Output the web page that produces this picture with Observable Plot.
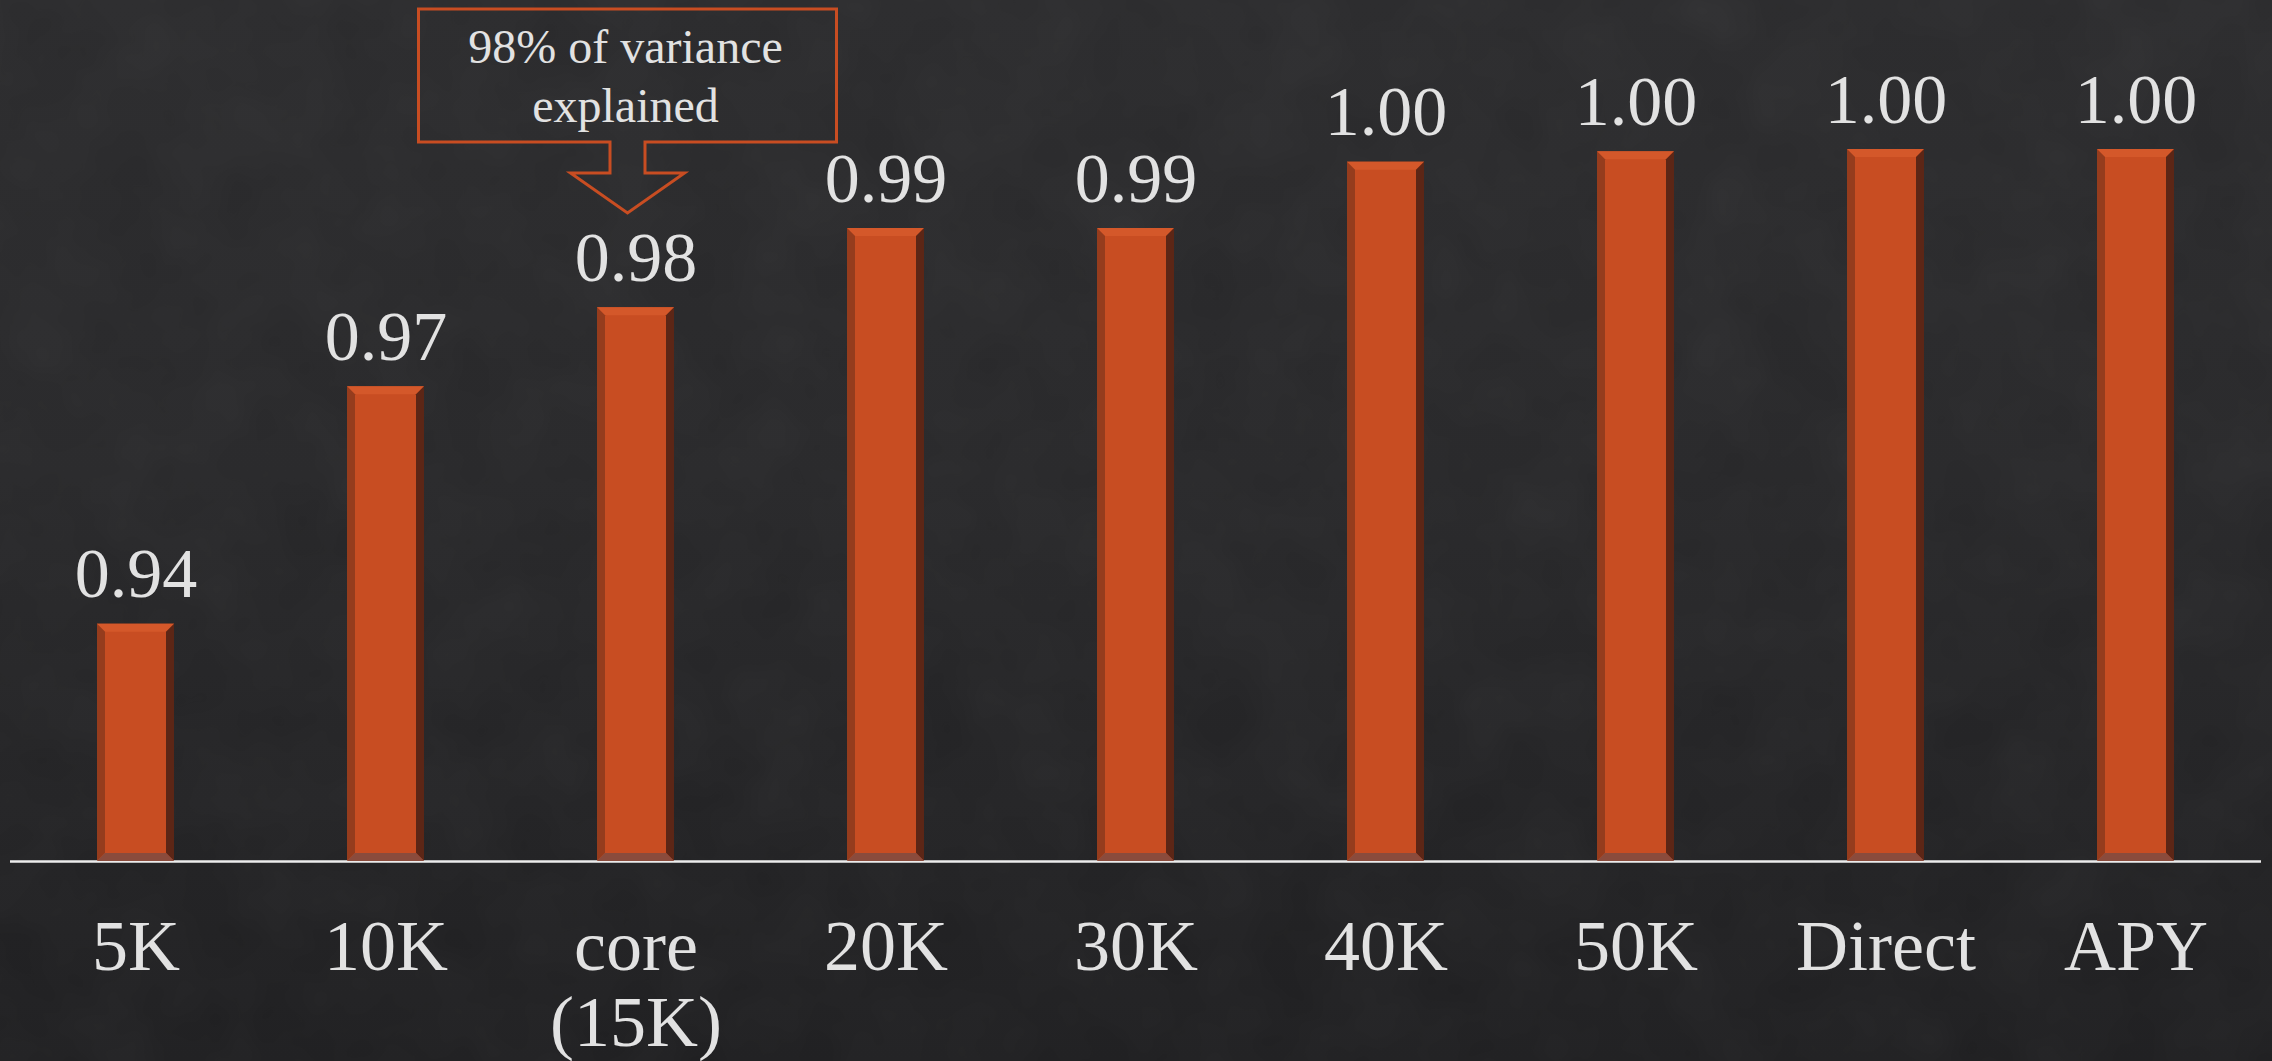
<!DOCTYPE html>
<html>
<head>
<meta charset="utf-8">
<script src="https://cdn.jsdelivr.net/npm/d3@7"></script>
<script src="https://cdn.jsdelivr.net/npm/@observablehq/plot@0.6"></script>
<style>
  html, body { margin: 0; padding: 0; width: 2272px; height: 1061px; overflow: hidden; }
  body { background: linear-gradient(180deg, #2b2b2d 0%, #28282a 45%, #1f1f21 100%); position: relative; }
  #noise { position: absolute; left: 0; top: 0; }
  #chart { position: absolute; left: 0; top: 0; }
  #chart svg { display: block; }
</style>
</head>
<body>
<svg id="noise" width="2272" height="1061" aria-hidden="true">
  <filter id="grain"><feTurbulence type="fractalNoise" baseFrequency="0.012" numOctaves="3" seed="4"/><feColorMatrix type="saturate" values="0"/></filter>
  <rect width="2272" height="1061" filter="url(#grain)" opacity="0.05"/>
</svg>
<div id="chart"></div>
<script>
// ---- data ----
const categories = ["5K", "10K", "core (15K)", "20K", "30K", "40K", "50K", "Direct", "APY"];
const tickLabels = ["5K", "10K", "core\n(15K)", "20K", "30K", "40K", "50K", "Direct", "APY"];
const values = [0.94, 0.97, 0.98, 0.99, 0.99, 0.9984, 0.9997, 1.0, 1.0];
const annotatedCategory = "core (15K)";
const annotationLines = ["98% of variance", "explained"];
const yDomain = [0.91, 1.0];

const data = categories.map((c, i) => ({category: c, value: values[i]}));

const W = 2272, H = 1061;
const FONT = "'Liberation Serif', 'Times New Roman', serif";
const TEXT = "#e2e2e2";
const ORANGE = "#c84d22";

const hasAxisMark = typeof Plot.axisX === "function";
const fmtTick = (d) => tickLabels[categories.indexOf(d)];

const plot = Plot.plot({
  width: W,
  height: H,
  marginLeft: 10,
  marginRight: 11,
  marginTop: 149,
  marginBottom: 200,
  style: {background: "transparent", fontFamily: FONT, color: TEXT, overflow: "visible"},
  x: {domain: categories, paddingInner: 0.692, paddingOuter: 0.346, label: null,
      ...(hasAxisMark ? {axis: null} : {tickSize: 0, tickPadding: 56, tickFormat: fmtTick})},
  y: {domain: yDomain, axis: null},
  marks: [
    Plot.barY(data, {x: "category", y1: yDomain[0], y2: "value", fill: ORANGE}),
    Plot.ruleY([yDomain[0]], {stroke: "#ececec", strokeWidth: 2.5}),
    Plot.text(data, {x: "category", y: "value", text: d => d3.format(".2f")(d.value),
      lineAnchor: "bottom", dy: -27, fontSize: 70, fill: TEXT, fontFamily: FONT}),
    hasAxisMark ? Plot.axisX({tickSize: 0, tickPadding: 55, tickFormat: fmtTick,
      fontSize: 72, lineHeight: 1.05, fill: TEXT, fontFamily: FONT, label: null}) : null
  ]
});
document.getElementById("chart").appendChild(plot);

const svg = d3.select(plot);
svg.selectAll("text").attr("fill", TEXT);
if (!hasAxisMark) {
  svg.selectAll("g[aria-label='x-axis'] text, g[aria-label='x-axis tick label'] text").style("font-size", "72px");
}

// ---- bevel on each bar (derived from the rendered bar geometry) ----
const bevel = svg.append("g").attr("aria-label", "bevel");
const rects = svg.selectAll("g[aria-label='bar'] rect").nodes();
rects.forEach((r) => {
  const x0 = +r.getAttribute("x"), y0 = +r.getAttribute("y");
  const x1 = x0 + +r.getAttribute("width"), yb = y0 + +r.getAttribute("height");
  const b = 8;
  const poly = (pts, fill) => bevel.append("polygon").attr("points", pts.map(p => p.join(",")).join(" ")).attr("fill", fill);
  poly([[x0, y0], [x1, y0], [x1 - b, y0 + b], [x0 + b, y0 + b]], "#d4582a");
  poly([[x0, y0], [x0 + b, y0 + b], [x0 + b, yb - b], [x0, yb]], "#953c1d");
  poly([[x1, y0], [x1 - b, y0 + b], [x1 - b, yb - b], [x1, yb]], "#5c2616");
  poly([[x0, yb], [x0 + b, yb - b], [x1 - b, yb - b], [x1, yb]], "#8a4b3c");
});

// ---- callout annotation anchored on the annotated bar ----
const ai = categories.indexOf(annotatedCategory);
const ar = rects[ai];
if (ar) {
  const cx = +ar.getAttribute("x") + +ar.getAttribute("width") / 2 - 8;
  const top = 9, bot = 142, half = 209, stem = 17.5, headY = 173, headHalf = 57, tipY = 213;
  const path = [
    `M${cx - half},${top}`, `H${cx + half}`, `V${bot}`, `H${cx + stem}`, `V${headY}`,
    `H${cx + headHalf}`, `L${cx},${tipY}`, `L${cx - headHalf},${headY}`, `H${cx - stem}`,
    `V${bot}`, `H${cx - half}`, "Z"
  ].join(" ");
  const g = svg.append("g").attr("aria-label", "annotation");
  g.append("path").attr("d", path).attr("fill", "none").attr("stroke", ORANGE).attr("stroke-width", 3);
  annotationLines.forEach((t, i) => {
    g.append("text").attr("x", cx - 2).attr("y", 63 + i * 59).attr("text-anchor", "middle")
      .attr("font-family", FONT).attr("font-size", 48).attr("fill", TEXT).text(t);
  });
}
</script>
</body>
</html>
